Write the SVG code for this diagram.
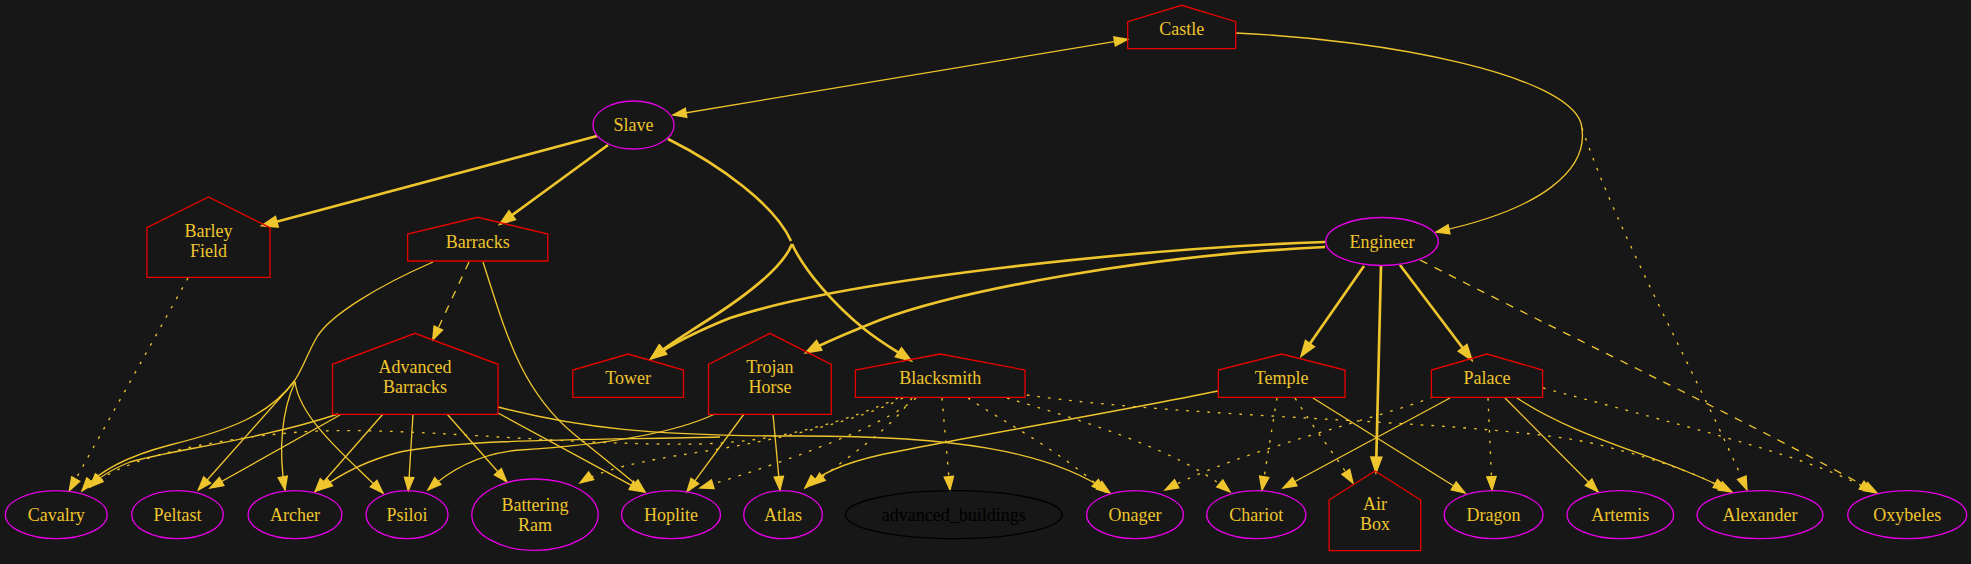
<svg xmlns="http://www.w3.org/2000/svg" width="1971" height="564" viewBox="0 0 1971 564">
<style>
.e{fill:none;stroke:#efc52d;stroke-width:1.33}
.t{stroke-width:2.67}
.dot{stroke-dasharray:2.67 8}
.dash{stroke-dasharray:8 8}
.h{fill:none;stroke:#e60000;stroke-width:1.33}
.u{fill:none;stroke:#e600e6;stroke-width:1.33}
.b{fill:none;stroke:#000;stroke-width:1.33}
text{font-family:"Liberation Serif","Times New Roman",serif;font-size:18px;fill:#efc52d;text-anchor:middle}
text.k{fill:#000}
</style>
<defs>
<marker id="a" markerUnits="userSpaceOnUse" viewBox="-2 -2 18 14" refX="13.3" refY="4.67" markerWidth="18" markerHeight="14" orient="auto" overflow="visible"><path d="M0,0 L13.3,4.67 L0,9.33z" fill="#efc52d" stroke="#efc52d" stroke-width="1.33"/></marker>
<marker id="as" markerUnits="userSpaceOnUse" viewBox="-2 -2 18 14" refX="13.3" refY="4.67" markerWidth="18" markerHeight="14" orient="auto-start-reverse" overflow="visible"><path d="M0,0 L13.3,4.67 L0,9.33z" fill="#efc52d" stroke="#efc52d" stroke-width="1.33"/></marker>
<marker id="at" markerUnits="userSpaceOnUse" viewBox="-3 -3 20 16" refX="13.3" refY="4.67" markerWidth="20" markerHeight="16" orient="auto" overflow="visible"><path d="M0,0 L13.3,4.67 L0,9.33z" fill="#efc52d" stroke="#efc52d" stroke-width="2.67"/></marker>
</defs>
<rect width="1971" height="564" fill="#171717"/>
<g id="edges">
<path class="e" d="M673,115 L1127.7,39.3" marker-start="url(#as)" marker-end="url(#a)"/>
<path class="e" d="M1236,33 C1390,40 1565,75 1581,123 C1592,170 1540,210 1436,232" marker-end="url(#a)"/>
<path class="e dot" d="M1582,128 C1620,240 1700,380 1747,490" marker-end="url(#a)"/>
<path class="e t" d="M597,136 L263.4,225.3" marker-end="url(#at)"/>
<path class="e t" d="M608,145 L501,223.3" marker-end="url(#at)"/>
<path class="e t" d="M668,139 C720,165 775,205 791,241"/>
<path class="e t" d="M792,244 C782,270 740,300 700,325 C680,338 664,348 652,358" marker-end="url(#at)"/>
<path class="e t" d="M792,244 C805,272 835,305 863,328 C880,342 895,350 910,360" marker-end="url(#at)"/>
<path class="e t" d="M1325,242 C1150,248 850,278 730,318 C700,330 670,345 652,358" marker-end="url(#at)"/>
<path class="e t" d="M1325,247 C1150,255 960,290 880,320 C850,332 825,342 807,352" marker-end="url(#at)"/>
<path class="e t" d="M1364,266 L1302,355" marker-end="url(#at)"/>
<path class="e t" d="M1381,266 L1376,471" marker-end="url(#at)"/>
<path class="e t" d="M1400,265 L1471,359" marker-end="url(#at)"/>
<path class="e dash" d="M1420,260 C1600,352 1750,422 1877,493" marker-end="url(#a)"/>
<path class="e dot" d="M188,278 L69.3,490.7" marker-end="url(#a)"/>
<path class="e dash" d="M469,262 L432.7,340" marker-end="url(#a)"/>
<path class="e" d="M483,262 C505,330 520,390 575,435 C600,455 625,475 645,492" marker-end="url(#a)"/>
<path class="e" d="M433,262 C380,285 330,315 317,337 C308,352 303,368 295,380"/>
<path class="e" d="M295,380 C270,415 230,430 170,445 C120,458 95,475 82,491" marker-end="url(#a)"/>
<path class="e" d="M295,381 L198.3,490" marker-end="url(#a)"/>
<path class="e" d="M295,382 C282,410 278,450 285,490" marker-end="url(#a)"/>
<path class="e" d="M295,382 C300,420 350,460 383,493" marker-end="url(#a)"/>
<path class="e" d="M338,414 C260,440 170,450 130,462 C110,470 98,478 90,487" marker-end="url(#a)"/>
<path class="e" d="M340,415 L210,488" marker-end="url(#a)"/>
<path class="e" d="M383,414 L315,491.7" marker-end="url(#a)"/>
<path class="e" d="M413,414 L408.3,490.7" marker-end="url(#a)"/>
<path class="e" d="M447,414 L506.7,481.7" marker-end="url(#a)"/>
<path class="e" d="M498,413 L643,491.7" marker-end="url(#a)"/>
<path class="e" d="M498,407 C580,428 650,436 800,436 C950,436 1050,450 1110,493" marker-end="url(#a)"/>
<path class="e" d="M720,437 C600,440 470,438 400,452 C360,462 335,478 319,490" marker-end="url(#a)"/>
<path class="e" d="M715,414 C670,435 600,445 520,450 C480,453 450,470 428,490" marker-end="url(#a)"/>
<path class="e" d="M744,414 L687,491.7" marker-end="url(#a)"/>
<path class="e" d="M773,414 L780,490" marker-end="url(#a)"/>
<path class="e dot" d="M898,398 C850,420 780,442 700,444 C560,446 400,425 300,432 C200,440 120,460 90,487" marker-end="url(#a)"/>
<path class="e dot" d="M903,398 C860,420 780,440 700,452 C640,461 600,470 580,483" marker-end="url(#a)"/>
<path class="e dot" d="M916,398 C880,430 760,470 700,488" marker-end="url(#a)"/>
<path class="e dot" d="M912,398 C890,430 850,455 812,485" marker-end="url(#a)"/>
<path class="e dot" d="M942,398 L950,490" marker-end="url(#a)"/>
<path class="e dot" d="M968,398 C1000,420 1060,450 1105,492" marker-end="url(#a)"/>
<path class="e dot" d="M1007,398 C1080,420 1180,450 1230,492" marker-end="url(#a)"/>
<path class="e dot" d="M1027,395 C1200,420 1500,420 1600,445 C1660,460 1700,475 1727,490" marker-end="url(#a)"/>
<path class="e" d="M1218,391 C1100,415 950,440 880,455 C840,464 818,475 805,488" marker-end="url(#a)"/>
<path class="e dot" d="M1277,398 L1262,490" marker-end="url(#a)"/>
<path class="e dot" d="M1295,398 C1315,430 1335,455 1353,483" marker-end="url(#a)"/>
<path class="e" d="M1313,398 L1465,493" marker-end="url(#a)"/>
<path class="e dot" d="M1433,397 C1380,418 1240,450 1165,490" marker-end="url(#a)"/>
<path class="e" d="M1450,398 L1283,488" marker-end="url(#a)"/>
<path class="e dot" d="M1488,398 L1492,490" marker-end="url(#a)"/>
<path class="e" d="M1505,398 L1598,491.7" marker-end="url(#a)"/>
<path class="e" d="M1517,398 C1580,440 1660,455 1732,492" marker-end="url(#a)"/>
<path class="e dot" d="M1543,388 C1700,430 1820,460 1873,492" marker-end="url(#a)"/>
</g>
<g id="Castle"><polygon class="h" points="1235.7,48.7 1127.7,48.7 1127.7,21.7 1181.7,5.3 1235.7,21.7"/><text x="1181.7" y="34.5">Castle</text></g>
<g id="Slave"><ellipse class="u" cx="633.5" cy="125" rx="40.6" ry="24"/><text x="633.5" y="131">Slave</text></g>
<g id="BarleyField"><polygon class="h" points="270,277.3 146.9,277.3 146.9,227.7 208.5,197 270,227.7"/><text x="208.5" y="236.5">Barley</text><text x="208.5" y="256.5">Field</text></g>
<g id="Barracks"><polygon class="h" points="547.8,261 407.6,261 407.6,234 477.7,217.3 547.8,234"/><text x="477.7" y="247.5">Barracks</text></g>
<g id="Engineer"><ellipse class="u" cx="1382" cy="241.5" rx="56.3" ry="24"/><text x="1382" y="247.5">Engineer</text></g>
<g id="AdvancedBarracks"><polygon class="h" points="498,414.3 332.5,414.3 332.5,364.3 415,333.3 498,364.3"/><text x="415" y="373">Advanced</text><text x="415" y="393">Barracks</text></g>
<g id="Tower"><polygon class="h" points="683.5,397.3 572.8,397.3 572.8,370 628.2,354 683.5,370"/><text x="628.2" y="383.5">Tower</text></g>
<g id="TrojanHorse"><polygon class="h" points="831.3,414.3 708.5,414.3 708.5,364.3 769.9,333.3 831.3,364.3"/><text x="769.9" y="373">Trojan</text><text x="769.9" y="393">Horse</text></g>
<g id="Blacksmith"><polygon class="h" points="1025,397.3 855.4,397.3 855.4,370 940.2,354 1025,370"/><text x="940.2" y="383.5">Blacksmith</text></g>
<g id="Temple"><polygon class="h" points="1345,397.3 1218.3,397.3 1218.3,370 1281.7,354 1345,370"/><text x="1281.7" y="383.5">Temple</text></g>
<g id="Palace"><polygon class="h" points="1542.6,397.3 1431.4,397.3 1431.4,370 1487,354 1542.6,370"/><text x="1487" y="383.5">Palace</text></g>
<g id="Cavalry"><ellipse class="u" cx="56.3" cy="514.7" rx="50.9" ry="24"/><text x="56.3" y="520.5">Cavalry</text></g>
<g id="Peltast"><ellipse class="u" cx="177.5" cy="514.7" rx="45.8" ry="24"/><text x="177.5" y="520.5">Peltast</text></g>
<g id="Archer"><ellipse class="u" cx="295" cy="514.7" rx="46.9" ry="24"/><text x="295" y="520.5">Archer</text></g>
<g id="Psiloi"><ellipse class="u" cx="407" cy="514.7" rx="41" ry="24"/><text x="407" y="520.5">Psiloi</text></g>
<g id="BatteringRam"><ellipse class="u" cx="535" cy="514.7" rx="63.2" ry="35.7"/><text x="535" y="510.5">Battering</text><text x="535" y="530.5">Ram</text></g>
<g id="Hoplite"><ellipse class="u" cx="671" cy="514.7" rx="49.5" ry="24"/><text x="671" y="520.5">Hoplite</text></g>
<g id="Atlas"><ellipse class="u" cx="783" cy="514.7" rx="39.3" ry="24"/><text x="783" y="520.5">Atlas</text></g>
<g id="advanced_buildings"><ellipse class="b" cx="953.8" cy="514.7" rx="108.3" ry="24"/><text class="k" x="953.8" y="520.5">advanced_buildings</text></g>
<g id="Onager"><ellipse class="u" cx="1135" cy="514.7" rx="48.4" ry="24"/><text x="1135" y="520.5">Onager</text></g>
<g id="Chariot"><ellipse class="u" cx="1256.3" cy="514.7" rx="49.6" ry="24"/><text x="1256.3" y="520.5">Chariot</text></g>
<g id="AirBox"><polygon class="h" points="1420.7,550.7 1329.1,550.7 1329.1,500 1375,471 1420.7,500"/><text x="1375" y="510">Air</text><text x="1375" y="530">Box</text></g>
<g id="Dragon"><ellipse class="u" cx="1493.6" cy="514.7" rx="49.4" ry="24"/><text x="1493.6" y="520.5">Dragon</text></g>
<g id="Artemis"><ellipse class="u" cx="1620.3" cy="514.7" rx="53.3" ry="24"/><text x="1620.3" y="520.5">Artemis</text></g>
<g id="Alexander"><ellipse class="u" cx="1760" cy="514.7" rx="63" ry="24"/><text x="1760" y="520.5">Alexander</text></g>
<g id="Oxybeles"><ellipse class="u" cx="1907.2" cy="514.7" rx="59.5" ry="24"/><text x="1907.2" y="520.5">Oxybeles</text></g>
</svg>
